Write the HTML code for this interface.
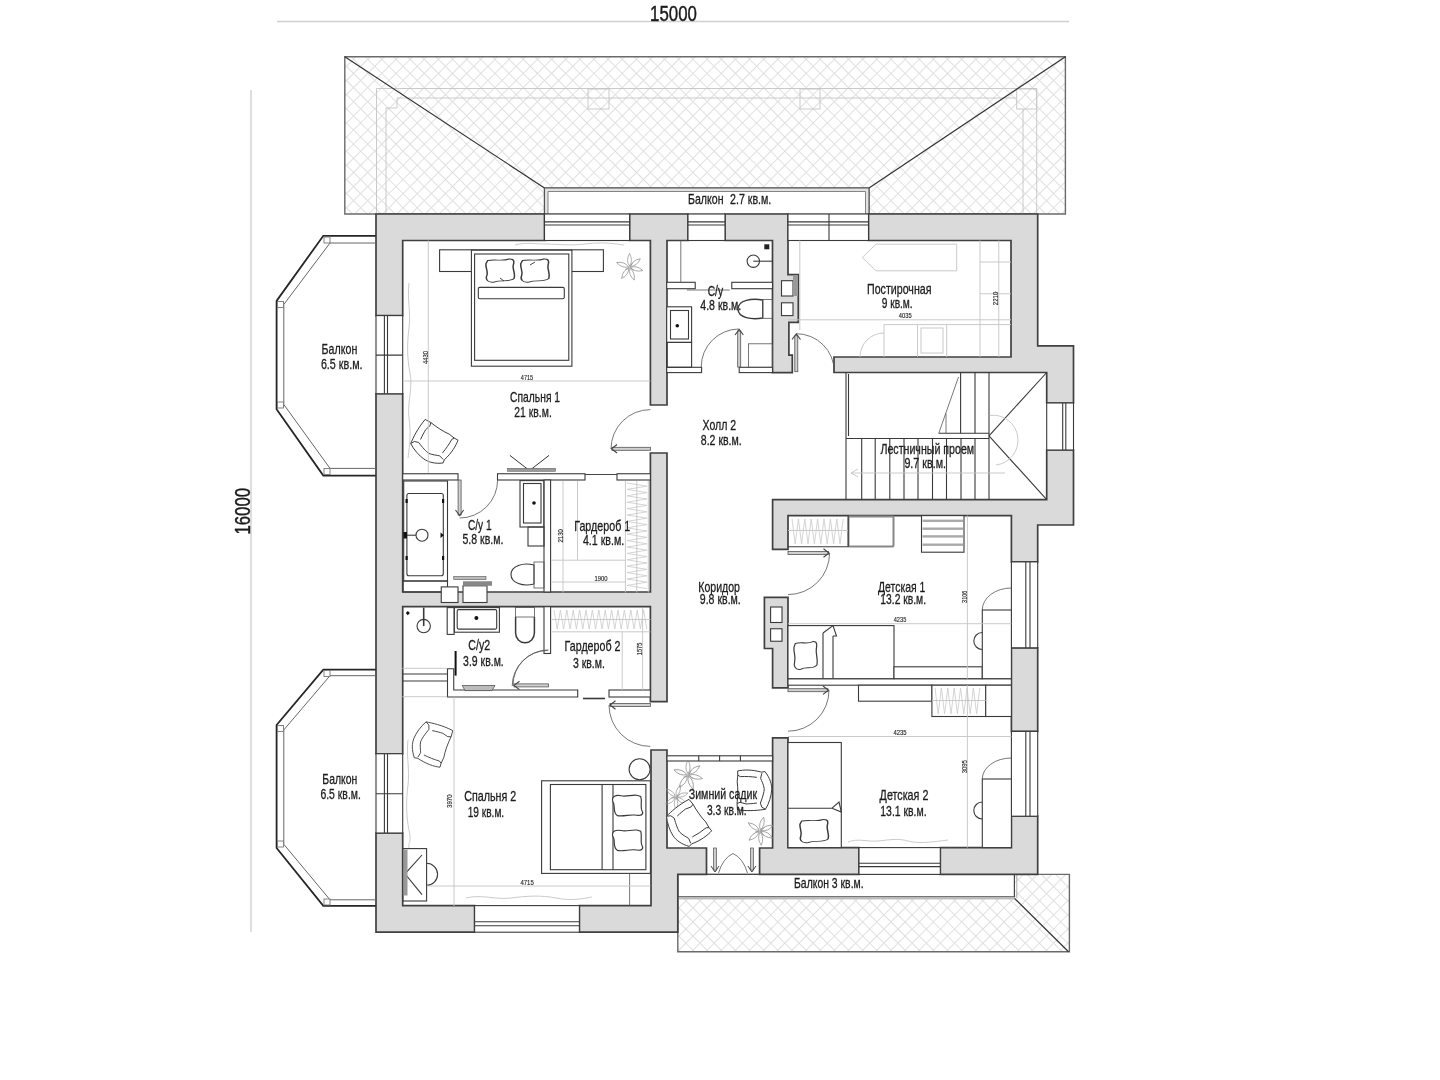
<!DOCTYPE html>
<html><head><meta charset="utf-8"><title>plan</title>
<style>
html,body{margin:0;padding:0;background:#fff;width:1440px;height:1080px;overflow:hidden}
svg{display:block;filter:blur(0.4px)}
text{font-family:"Liberation Sans",sans-serif;fill:#1a1a1a}
.w{fill:#dadada;stroke:#404040;stroke-width:1.7;stroke-linejoin:miter}
.ln{fill:none;stroke:#3a3a3a;stroke-width:1.1}
.lnw{fill:#fff;stroke:#3a3a3a;stroke-width:1.1}
.th{fill:none;stroke:#555;stroke-width:0.8}
.lt{fill:none;stroke:#c4c4c4;stroke-width:0.9}
.dim{fill:none;stroke:#d0d0d0;stroke-width:1.4}
.roof{fill:url(#hatch);stroke:#6a6a6a;stroke-width:1.4}
.t{font-size:14.6px;stroke:#222;stroke-width:0.3}
.s{font-size:7px;fill:#333;stroke:#333;stroke-width:0.15}
</style></head>
<body>
<svg width="1440" height="1080" viewBox="0 0 1440 1080">
<defs>
<pattern id="hatch" patternUnits="userSpaceOnUse" width="10" height="10" patternTransform="translate(0,2) rotate(45)">
<rect width="10" height="10" fill="#fff"/>
<path d="M0 0.5H10M0.5 0V10" stroke="#e0e0e0" stroke-width="1"/>
</pattern>

<g id="chair" fill="#fff" stroke="#3a3a3a" stroke-width="0.9" stroke-linejoin="round">
<path d="M-7.9 -23.1C-2 -22 8 -20 18.8 -14.4L17.1 -8.3C14 -2 11 6 9.9 12.2L7.1 18.3L6 22.2C0 21.5 -8 19 -16.2 13.3L-19.6 12.8C-22.5 5 -22 -2 -20.1 -6.7C-18 -12 -13 -19 -7.9 -23.1Z"/>
<path d="M-7.9 -23.1L-5.1 -19.9L-5.1 -15.6C-9 -11 -12.5 -6 -13.4 -3.3C-14.2 1 -13.4 5 -13.4 7.8L-16.2 12.2M-1.8 -14.4C3 -13.5 6 -12.5 8.8 -11.7L13.8 -8.3L17.1 -8.3M-10.1 9.9C-5 12.5 0 14.5 5.4 16L7.1 18.3" fill="none"/>
</g>
<g id="plant" fill="none" stroke="#8a8a8a" stroke-width="0.6">
<path id="petal" d="M0 -1Q3.5 -6 0 -12.5Q-3.5 -6 0 -1Z"/>
<use href="#petal" transform="rotate(52)"/>
<use href="#petal" transform="rotate(104)"/>
<use href="#petal" transform="rotate(160)"/>
<use href="#petal" transform="rotate(215)"/>
<use href="#petal" transform="rotate(290)"/>
<path d="M0 0L3 -4M0 0L-4 2M0 0L4 3"/>
</g>
<path id="pillow" d="M1 2C6 0.5 10 3 14 0.5C17.5 0 17 4 16.5 7C16 11 18 15 17 20C14 24 9 21 5 23.5C1 24.5 -0.5 21 0.5 17C1.5 13 -0.5 9 0 5Z" fill="#fff" stroke="#3a3a3a" stroke-width="0.9"/>
</defs>
<rect width="1440" height="1080" fill="#fff"/>

<!-- dimension lines -->
<line class="dim" x1="277" y1="21.5" x2="1069" y2="21.5"/>
<line class="dim" x1="251" y1="90" x2="251" y2="932"/>
<text x="650" y="20.6" font-size="22.8" stroke="#1a1a1a" stroke-width="0.45" textLength="46.9" lengthAdjust="spacingAndGlyphs">15000</text>
<text transform="translate(250,534.6) rotate(-90)" font-size="22.8" stroke="#1a1a1a" stroke-width="0.45" textLength="46.7" lengthAdjust="spacingAndGlyphs">16000</text>

<!-- TOP ROOF -->
<path class="roof" d="M344.8 56.7H1065.4V214H869V188H544.5V214H344.8Z"/>
<g class="lt">
<path d="M376.5 214V88.5H1036.7V214"/>
<path d="M386 214V108H397V98H1016.7M1023 214V109"/>
<rect x="588" y="89" width="21" height="20"/><rect x="800" y="89" width="20" height="20"/><rect x="1016.7" y="89" width="20" height="20"/>
</g>
<line x1="344.8" y1="56.7" x2="544.5" y2="188" stroke="#333" stroke-width="1.2"/>
<line x1="1065.4" y1="56.7" x2="869" y2="188" stroke="#333" stroke-width="1.2"/>
<!-- balcony 2.7 -->
<path d="M544.5 214V188H869V214Z" fill="#e2e2e2" stroke="#555" stroke-width="1.1"/>
<path d="M548 214V191.5H865.5V214Z" fill="#fff" stroke="#777" stroke-width="0.9"/>
<text x="688" y="203.5" class="t" textLength="35.5" lengthAdjust="spacingAndGlyphs">Балкон</text>
<text x="730" y="203.5" class="t" textLength="41.3" lengthAdjust="spacingAndGlyphs">2.7 кв.м.</text>

<!-- BOTTOM ROOF -->
<path class="roof" d="M677.8 874.4H1069.4V951.7H677.8Z"/>
<line x1="1014.4" y1="898.3" x2="1068.5" y2="951.7" stroke="#333" stroke-width="1.2"/>
<rect x="677.8" y="874.4" width="336.6" height="22.3" fill="#fff" stroke="#444" stroke-width="1.2"/>
<rect x="677.8" y="896.7" width="336.6" height="2.7" fill="#bbb"/>
<path d="M1016.8 874.4V898.3" stroke="#999" stroke-width="0.8"/>
<text x="794" y="888.4" class="t" textLength="69.6" lengthAdjust="spacingAndGlyphs">Балкон 3 кв.м.</text>

<!-- WALLS -->
<g class="w">
<path d="M376 214H544.5V240.5H402.7V315.6H376Z"/>
<path d="M629.6 214H688V240.5H667V405H650.4V240.5H629.6Z"/>
<path d="M725 214H788V274.6H798.3V322.3H788.9V355.2H792.3V372.6H772.5V240.5H725Z"/>
<path d="M868.5 214H1037.7V345.8H1073.5V403H1046.7V372.5H834V357H1011V240.5H868.5Z"/>
<path d="M1046.7 450H1073.5V525H1037.7V561.9H1011.4V515.6H788V549.3H772.6V499.6H1046.7Z"/>
<path d="M1011.4 647.8H1037.7V731.4H1011.4Z"/>
<path d="M1011.4 816.2H1037.7V874.4H940.3V847.6H1011.4Z"/>
<path d="M772.6 737.9H788V847.6H859V874.4H759.6V848H772.6Z"/>
<path d="M651 750H667V848H706.5V874.4H677.8V932.2H579.4V905.6H651Z"/>
<path d="M376 833H402.7V905.6H474.6V932.2H376Z"/>
<path d="M376 393.75H402.7V592H650.4V453H667V701.7H650.4V606.7H402.7V753.75H376Z"/>
<path d="M764.4 597.4H788V687.9H772.6V648.5H764.4Z"/>
</g>

<!-- WINDOWS -->
<g class="lnw">
<rect x="544.5" y="214" width="85.1" height="26.5"/>
<rect x="688" y="214" width="37" height="26.5"/>
<rect x="788" y="214" width="80.5" height="26.5"/>
<rect x="376" y="315.6" width="26.7" height="78.15"/>
<rect x="376" y="753.75" width="26.7" height="79.25"/>
<rect x="1046.7" y="403" width="26.8" height="47"/>
<rect x="1011.4" y="561.9" width="26.3" height="85.9"/>
<rect x="1011.4" y="731.4" width="26.3" height="84.8"/>
<rect x="474.6" y="905.6" width="104.8" height="26.6"/>
<rect x="859" y="847.6" width="81.3" height="26.8"/>
</g>
<g class="ln">
<path d="M544.5 221.9H629.6M544.5 225H629.6M688 221.9H725M688 225H725M788 221.9H868.5M788 225H868.5M829 214V240.5"/>
<path d="M384.4 315.6V393.75M387.5 315.6V393.75M376 355.1H402.7"/>
<path d="M384.4 753.75V833M387.5 753.75V833M376 793.7H402.7"/>
<path d="M1062.7 403V450M1065.8 403V450"/>
<path d="M1025.8 561.9V647.8M1030 561.9V647.8"/>
<path d="M1025.8 731.4V816.2M1030 731.4V816.2"/>
<path d="M474.6 921.7H579.4M474.6 925.8H579.4"/>
<path d="M859 863.2H940.3M859 866.6H940.3"/>
</g>

<!-- LEFT BALCONIES -->
<g>
<path d="M375.8 235.8H323.3L276.6 300.9V409.3L323.3 475.6H375.8" fill="none" stroke="#262626" stroke-width="1.8"/>
<path d="M375.8 243H330L283.8 304.5V404.5L330 468.4H375.8" fill="none" stroke="#666" stroke-width="1"/>
<path d="M375.8 669.6H323.3L276.6 725V848L323.3 905.8H375.8" fill="none" stroke="#262626" stroke-width="1.8"/>
<path d="M375.8 675.7H330L283.8 729.9V844.3L330 899.8H375.8" fill="none" stroke="#666" stroke-width="1"/>
<g fill="#fff" stroke="#777" stroke-width="0.9">
<rect x="324" y="237" width="6" height="6"/><rect x="277.5" y="301.5" width="6" height="6"/><rect x="277.5" y="402" width="6" height="6"/><rect x="324" y="468.5" width="6" height="6"/>
<rect x="324" y="670.5" width="6" height="6"/><rect x="277.5" y="725.5" width="6" height="6"/><rect x="277.5" y="841" width="6" height="6"/><rect x="324" y="899" width="6" height="6"/>
</g>
</g>

<!-- PARTITIONS -->
<g class="lnw">
<rect x="402.7" y="473.75" width="55.3" height="6.25"/>
<rect x="497.5" y="473.75" width="87.5" height="6.25"/>
<rect x="617" y="473.75" width="33.4" height="6.25"/>
<rect x="544" y="480" width="6.6" height="112"/>
<rect x="544" y="606.7" width="6.6" height="46.8"/>
<path d="M447.5 668.75H453.75V690H577.7V697H447.5Z"/>
<rect x="609" y="690" width="41.4" height="7"/>
<rect x="666.7" y="282.3" width="28.5" height="6.4"/>
<rect x="731.8" y="282.3" width="40.7" height="6.4"/>
<rect x="666.7" y="367.3" width="34.9" height="5.3"/>
<rect x="739.2" y="367.3" width="33.3" height="5.3"/>
<rect x="788" y="678.7" width="223.4" height="6.5"/>
<rect x="667" y="755.8" width="105.6" height="5.2"/>
</g>
<g class="ln">
<path d="M402.7 674H447.5M402.7 681H447.5"/>
<path d="M583 698.5H605" stroke-width="1.6"/>
<path d="M698.75 755.8V761M719.6 755.8V761M740.4 755.8V761"/>
</g>

<!-- STAIRS -->
<g class="ln">
<path d="M846 372.5V499.6M848.5 374V436"/>
<path d="M938.75 433.3H989M846 438.5H989"/>
<path d="M960.6 372.5V433.3M975 372.5V433.3M989 372.5V499.6"/>
<path d="M861.7 438.5V499.6M875.2 438.5V499.6M889.8 438.5V499.6M904 438.5V499.6M918 438.5V499.6M932.5 438.5V499.6M946.5 438.5V499.6M961 438.5V499.6M975 438.5V499.6"/>
<path d="M989 435.8L1046.7 372.5M989 435.8L1046.7 499.6"/>
<path d="M958.5 377L938.75 433.3M946 413.5V433.3" class="th"/>
</g>
<g class="lt">
<path d="M989.7 415.4A25 25 0 1 1 996 465"/>
<path d="M1005 473H851M858 469L851 473L858 477"/>
</g>

<!-- DOORS -->
<g class="th">
<path d="M611 449A39.4 39.4 0 0 1 650.4 409.6"/>
<path d="M459.6 518A38 38 0 0 0 497.6 480"/>
<path d="M701.2 367A38 38 0 0 1 739.2 329"/>
<path d="M796.3 333.7A38 38 0 0 1 834.3 371.7"/>
<path d="M829.6 553A41.6 41.6 0 0 1 788 594.6"/>
<path d="M829 690.2A41 41 0 0 1 788 731.2"/>
<path d="M609 705A41.4 41.4 0 0 0 650.4 746.4"/>
<path d="M513 685.4A35.5 35.5 0 0 1 548.5 649.9"/>
</g>
<g fill="#d0d0d0" stroke="#555" stroke-width="0.8">
<rect x="612" y="447.3" width="38.4" height="3"/>
<rect x="458.1" y="480" width="3" height="35"/>
<rect x="737.7" y="331" width="3" height="36"/>
<rect x="794.8" y="335.7" width="3" height="36"/>
<rect x="788" y="551.5" width="40.6" height="3"/>
<rect x="788" y="688.7" width="40" height="3"/>
<rect x="610" y="703.5" width="40.4" height="3"/>
<rect x="514" y="683.9" width="34.5" height="3"/>
</g>

<g fill="none" stroke="#444" stroke-width="1.1">
<path d="M617 444.5L611.5 448.75L617 453"/>
<path d="M455.5 510L459.6 515.5L463.7 510"/>
<path d="M735 335L739.2 329.5L743.4 335"/>
<path d="M792 339.5L796.3 334L800.5 339.5"/>
<path d="M823.5 548.8L829 553L823.5 557.2"/>
<path d="M823 686L828.5 690.2L823 694.4"/>
<path d="M615.5 700.8L610 705L615.5 709.2"/>
<path d="M519.5 681.2L514 685.4L519.5 689.6"/>
</g>
<path d="M585 474.5H617" stroke="#444" stroke-width="1"/>

<!-- FURNITURE: Спальня 1 -->
<g class="ln">
<rect x="439.6" y="249.8" width="163.8" height="21.7" fill="#fff"/>
<rect x="471.4" y="250.2" width="100.5" height="116" fill="#fff"/>
<rect x="474.6" y="254" width="94.2" height="106.3"/>
<rect x="478.3" y="287.4" width="86" height="11.3" rx="1.5"/>
</g>
<use href="#pillow" transform="translate(486,258.5) scale(1.65,1)"/>
<use href="#pillow" transform="translate(520.8,258.5) scale(1.65,1)"/>
<path d="M500 278l4 3M535 262l-5 3" stroke="#333" stroke-width="0.9"/>
<use href="#plant" transform="translate(629.5,267.2) scale(1.1)"/>
<use href="#chair" transform="translate(435,441) rotate(-77)"/>
<g class="lt">
<path d="M515 245c10-3 20-1 30-1s25 2 40 0 25-1 39 1"/>
<path d="M409 283c-2 15 2 30 0 45s-2 30 1 45-3 30-1 45 1 25-1 40"/>
<path d="M428.3 240.5V472.8M402.7 381H650.4"/>
</g>
<!-- TV -->
<path d="M509.9 455.4L529.5 470.6L549 455.4" fill="none" stroke="#333" stroke-width="1"/>
<rect x="507.7" y="468.3" width="47.9" height="3" fill="#999" stroke="#555" stroke-width="0.5"/>

<!-- С/у 1 -->
<g class="ln">
<rect x="403.7" y="481" width="43.8" height="100" fill="#fff"/>
<rect x="406.9" y="493.5" width="36.4" height="82.3" rx="2"/>
<circle cx="422" cy="535.2" r="6"/>
<path d="M404 535.2H416"/>
<rect x="403" y="581" width="44.5" height="11"/>
<rect x="520" y="480.6" width="23.75" height="46.4" fill="#fff"/>
<rect x="523.5" y="483.5" width="17.5" height="39.5"/>
<rect x="528" y="527" width="16" height="19"/>
<path d="M534 565C523 562 511 566 511 574.5S523 587 534 584Z" fill="#fff"/>
<rect x="534" y="562" width="10" height="26" class="th"/>
<rect x="441.25" y="586.9" width="16.75" height="15.6" fill="#fff"/>
<rect x="463" y="585.8" width="24" height="16.7" fill="#fff"/>
</g>
<circle cx="534" cy="503" r="1.8" fill="#111"/>
<rect x="453.75" y="576.5" width="32.25" height="3.1" fill="#bbb" stroke="#555" stroke-width="0.6"/>
<rect x="463" y="581.25" width="29" height="4.5" fill="#888"/>
<g fill="#111"><rect x="405.5" y="499" width="2.2" height="4"/><rect x="442" y="499" width="2.2" height="4"/><rect x="405.5" y="556" width="2.2" height="4"/><rect x="442" y="556" width="2.2" height="4"/><rect x="403.5" y="532" width="3.5" height="6.5"/><path d="M440.5 532.5l3.5 2.7-3.5 2.7z"/></g>

<!-- Гардероб 1 -->
<g class="lt">
<path d="M563 481V592.5M577.5 481V560.2M551.5 560.2H625.4M625.4 481V592.5M648.3 481V592.5M551.5 582H625.4"/>
<path d="M627.0 483.0 L647.0 486.2 L627.0 489.4 L647.0 492.6 L627.0 495.8 L647.0 499.0 L627.0 502.2 L647.0 505.4 L627.0 508.6 L647.0 511.8 L627.0 515.0 L647.0 518.2 L627.0 521.4 L647.0 524.6 L627.0 527.8 L647.0 531.0 L627.0 534.2 L647.0 537.4 L627.0 540.6 L647.0 543.8 L627.0 547.0 L647.0 550.2 L627.0 553.4 L647.0 556.6 L627.0 559.8 L647.0 563.0 L627.0 566.2 L647.0 569.4 L627.0 572.6 L647.0 575.8 L627.0 579.0 L647.0 582.2 L627.0 585.4 L647.0 588.6" stroke="#cfcfcf"/><path d="M636.8 481V592.5"/>
</g>

<!-- С/у 4.8 -->
<g class="ln">
<path d="M680.8 240.5V282.3" class="th"/>
<circle cx="753.3" cy="261.2" r="6.2"/>
<path d="M753.3 261.2H772.5"/>
<rect x="666.7" y="306.8" width="24.9" height="35.6" fill="#fff"/>
<rect x="670.5" y="310.5" width="18" height="28.5"/>
<rect x="666.7" y="342.4" width="24.9" height="24.9"/>
<path d="M762.7 300C752 298 738 300 738 309S752 320 762.7 318Z" fill="#fff" stroke-width="1.4"/>
<rect x="762.7" y="299.5" width="9.8" height="18.8" class="th"/>
<rect x="748.4" y="343.8" width="24.1" height="23.5" class="th"/>
<path d="M686.9 290H729.8" class="th"/>
</g>
<rect x="764.3" y="244.3" width="5" height="5" fill="#222"/>
<circle cx="677.3" cy="325.8" r="1.8" fill="#111"/>
<g class="lnw"><rect x="781.5" y="280.7" width="11.5" height="15.3"/><rect x="781.5" y="302.8" width="11.5" height="12.8"/></g>
<rect x="793" y="275" width="5" height="21" fill="#999"/>

<!-- Постирочная -->
<g class="lt" stroke="#b5b5b5">
<path d="M862.3 257.5L876 244.2H956.7V270.8H876Z"/>
<path d="M980 240.5V357M998.75 240.5V357M980 262H1011M980 293.75H1011M884 324.6H1011M884 324.6V357M917.5 324.6V357M946.7 324.6V357"/>
<rect x="921" y="328" width="22" height="25"/>
<path d="M860 357A24 24 0 0 1 884 333"/>
<path d="M799.8 240.5V330M788 319.8H1011"/>
</g>

<!-- С/у2 -->
<path d="M405.8 613.1l2-2.2 2 2.2-2 2.2z" fill="#111"/>
<g class="ln">
<path d="M423.7 607.6V626.1" stroke-width="1.6"/>
<circle cx="423.7" cy="626.1" r="6.7"/>
<rect x="447.2" y="607.6" width="6.9" height="26.8" fill="#fff"/>
<rect x="454.4" y="607.6" width="45" height="24.6" fill="#fff"/>
<rect x="457.2" y="609.6" width="39.5" height="19.5" rx="1.5"/>
<path d="M515.6 617V633A9.4 9.8 0 0 0 534.4 633V617" fill="#fff" stroke-width="1.5"/>
<rect x="515.6" y="607.6" width="18.8" height="9.4" class="th"/>
</g>
<circle cx="476.4" cy="618" r="2" fill="#111"/>
<path d="M455.6 651V675.6" stroke="#111" stroke-width="2"/>
<path d="M462.2 685.5H495L492 690.6H465Z" fill="#bbb" stroke="#444" stroke-width="0.7"/>
<path d="M512.2 686.1A35.6 35.6 0 0 1 547.8 650.5" class="th"/>
<g class="lt"><path d="M402.4 668.3H447.2M402.4 696.7H447.2"/></g>

<!-- Гардероб 2 -->
<g class="lt">
<path d="M551.7 631.8H650.4M622.2 631.8V690M642.6 608V690"/>
<path d="M554.0 610.0 L557.2 629.0 L560.4 610.0 L563.6 629.0 L566.8 610.0 L570.0 629.0 L573.2 610.0 L576.4 629.0 L579.6 610.0 L582.8 629.0 L586.0 610.0 L589.2 629.0 L592.4 610.0 L595.6 629.0 L598.8 610.0 L602.0 629.0 L605.2 610.0 L608.4 629.0 L611.6 610.0 L614.8 629.0 L618.0 610.0 L621.2 629.0 L624.4 610.0 L627.6 629.0 L630.8 610.0 L634.0 629.0 L637.2 610.0 L640.4 629.0 L643.6 610.0 L646.8 629.0" stroke="#cfcfcf"/><path d="M551.7 619.5H650.4"/>
</g>

<!-- Спальня 2 -->
<use href="#chair" transform="translate(434,745) rotate(0)"/>
<g class="ln">
<rect x="541.6" y="780.8" width="108.8" height="92.6" fill="#fff"/>
<rect x="550.4" y="784.5" width="95.5" height="85.2"/>
<path d="M602.1 784.5V869.7M613 784.5V869.7"/>
<circle cx="639.6" cy="769.3" r="10.5" fill="#fff"/>
<rect x="403.1" y="848.6" width="23.5" height="52.4" fill="#fff"/>
<path d="M422 855L405 873.8L422 894.6"/>
<path d="M426.6 863.3A11 11 0 1 1 426.6 885.3"/>
<path d="M629.6 873.4V905.6" class="th"/>
</g>
<rect x="403.5" y="849.5" width="4" height="46" fill="#999"/>
<use href="#pillow" transform="translate(643.3,795.2) rotate(90) scale(1.2,1.3)"/>
<use href="#pillow" transform="translate(643.3,830) rotate(90) scale(1.2,1.3)"/>
<g class="lt">
<path d="M454 697V906M427 886H650.4"/>
<path d="M466 898c15-4 30 2 45 0s30-3 45 0 25 1 36-1"/>
<path d="M408 740c-2 15 2 30 0 45s-2 30 1 45-1 10 0 18"/>
</g>

<!-- Зимний садик -->
<use href="#plant" transform="translate(688,775) scale(1.2)"/>
<use href="#plant" transform="translate(676,797) scale(1.0) rotate(20)"/>
<use href="#plant" transform="translate(760,831) scale(1.15) rotate(15)"/>
<use href="#chair" transform="translate(690,823) rotate(-55)"/>
<use href="#chair" transform="translate(750.5,790) rotate(161)"/>
<g class="th">
<path d="M718.5 873Q723 858 733 853.5Q743 858 747.5 873"/>
</g>
<g fill="#ccc" stroke="#555" stroke-width="0.7">
<rect x="713.5" y="848" width="3" height="22"/>
<rect x="750.4" y="848" width="3" height="22"/>
</g>
<path d="M711 866l4 6 4-6M747.9 866l4 6 4-6" fill="none" stroke="#444" stroke-width="1"/>

<!-- Детская 1 -->
<g class="ln">
<rect x="848.5" y="516.5" width="45" height="30" stroke="#888" stroke-width="2" rx="1"/>
<path d="M788 546.8H848.2V515.6"/>
<rect x="921.5" y="515.6" width="42.5" height="36.6" fill="#fff"/>
<rect x="788" y="625.6" width="106" height="53.1" fill="#fff"/>
<path d="M823 633V678.7M833 636V678.7M823 633L833 625.6L836.5 636L833 636"/>
<rect x="894" y="666.8" width="88.3" height="11.9" fill="#fff"/>
<rect x="982.3" y="610" width="29.1" height="68.7" fill="#fff"/>
<path d="M982.3 610A29 22 0 0 1 1011.4 588" class="th"/>
<path d="M982.3 632.5A8.5 8.5 0 0 0 982.3 649.5"/>
</g>
<g fill="#aaa"><rect x="922.5" y="519.6" width="40.5" height="2.4"/><rect x="922.5" y="527.5" width="40.5" height="2.4"/><rect x="922.5" y="535.2" width="40.5" height="2.4"/><rect x="922.5" y="543.5" width="40.5" height="2.4"/></g>
<use href="#pillow" transform="translate(794,641) scale(1.35,1.2)"/>
<g class="lt">
<path d="M792.0 519.0 L795.2 544.0 L798.4 519.0 L801.6 544.0 L804.8 519.0 L808.0 544.0 L811.2 519.0 L814.4 544.0 L817.6 519.0 L820.8 544.0 L824.0 519.0 L827.2 544.0 L830.4 519.0 L833.6 544.0 L836.8 519.0 L840.0 544.0 L843.2 519.0" stroke="#cfcfcf"/><path d="M788 530.5H848" />
<path d="M788 623.7H1011.4M967.4 515.6V678.7"/>
</g>
<g class="lnw"><rect x="770.6" y="607" width="11.4" height="15.5"/><rect x="770.6" y="628.75" width="11.4" height="12.5"/></g>

<!-- Детская 2 -->
<g class="ln">
<rect x="858.5" y="685.2" width="73.4" height="16" fill="#fff"/>
<rect x="931.9" y="685.2" width="53.8" height="31.3" fill="#fff"/>
<rect x="985.7" y="685.2" width="25.7" height="31.3" fill="#fff"/>
<rect x="788" y="742.5" width="53.3" height="105.1" fill="#fff"/>
<path d="M788 808.2H832M832 808.2L839 802L841.3 812L832 808.2"/>
<rect x="982.3" y="779" width="29.1" height="68.6" fill="#fff"/>
<path d="M982.3 779A29 21 0 0 1 1011.4 758" class="th"/>
<path d="M982.3 802A8.5 8.5 0 0 0 982.3 819"/>
</g>
<use href="#pillow" transform="translate(800,819) scale(1.65,1)"/>
<g class="lt">
<path d="M935.0 688.0 L938.2 714.0 L941.4 688.0 L944.6 714.0 L947.8 688.0 L951.0 714.0 L954.2 688.0 L957.4 714.0 L960.6 688.0 L963.8 714.0 L967.0 688.0 L970.2 714.0 L973.4 688.0 L976.6 714.0 L979.8 688.0" stroke="#cfcfcf"/><path d="M931.9 700.5H985.7"/>
<path d="M788 736.5H1011.4M967.4 685.2V847.6"/>
<path d="M848 842c10-4 20 0 30-1s20-3 30 0 25 1 40-1"/>
</g>

<g class="s">
<text x="520.8" y="379.6" textLength="12.4" lengthAdjust="spacingAndGlyphs">4715</text>
<text x="898.75" y="317.6" textLength="12.9" lengthAdjust="spacingAndGlyphs">4035</text>
<text x="594.6" y="581" textLength="13" lengthAdjust="spacingAndGlyphs">1900</text>
<text x="893.7" y="621.6" textLength="12.6" lengthAdjust="spacingAndGlyphs">4235</text>
<text x="893.4" y="735.4" textLength="13.2" lengthAdjust="spacingAndGlyphs">4235</text>
<text x="520.4" y="885.4" textLength="13.4" lengthAdjust="spacingAndGlyphs">4715</text>
<text transform="translate(428.3,364) rotate(-90)" textLength="13" lengthAdjust="spacingAndGlyphs">4430</text>
<text transform="translate(562.9,542.5) rotate(-90)" textLength="13.5" lengthAdjust="spacingAndGlyphs">2130</text>
<text transform="translate(642.2,655.2) rotate(-90)" textLength="12.5" lengthAdjust="spacingAndGlyphs">1575</text>
<text transform="translate(997.7,305.2) rotate(-90)" textLength="13.5" lengthAdjust="spacingAndGlyphs">2210</text>
<text transform="translate(966.6,602.9) rotate(-90)" textLength="12.2" lengthAdjust="spacingAndGlyphs">3106</text>
<text transform="translate(966.8,773.2) rotate(-90)" textLength="13.1" lengthAdjust="spacingAndGlyphs">3095</text>
<text transform="translate(452,808) rotate(-90)" textLength="13.6" lengthAdjust="spacingAndGlyphs">3970</text>
</g>

<!-- LABELS -->
<g class="t">
<text x="867" y="293.75" textLength="64.5" lengthAdjust="spacingAndGlyphs">Постирочная</text>
<text x="881.7" y="308.3" textLength="31" lengthAdjust="spacingAndGlyphs">9 кв.м.</text>
<text x="321.6" y="353.9" textLength="35.7" lengthAdjust="spacingAndGlyphs">Балкон</text>
<text x="320.9" y="369.1" textLength="41.7" lengthAdjust="spacingAndGlyphs">6.5 кв.м.</text>
<text x="510.1" y="402.2" textLength="50" lengthAdjust="spacingAndGlyphs">Спальня 1</text>
<text x="514.3" y="417.2" textLength="37.5" lengthAdjust="spacingAndGlyphs">21 кв.м.</text>
<text x="702.5" y="430" textLength="33.75" lengthAdjust="spacingAndGlyphs">Холл 2</text>
<text x="700.8" y="444.6" textLength="40.9" lengthAdjust="spacingAndGlyphs">8.2 кв.м.</text>
<text x="880.4" y="454.2" textLength="93.8" lengthAdjust="spacingAndGlyphs">Лестничный проем</text>
<text x="904.4" y="467.7" textLength="41.6" lengthAdjust="spacingAndGlyphs">9.7 кв.м.</text>
<text x="467.9" y="529.6" textLength="23.8" lengthAdjust="spacingAndGlyphs">С/у 1</text>
<text x="462.5" y="543.5" textLength="40.8" lengthAdjust="spacingAndGlyphs">5.8 кв.м.</text>
<text x="574.2" y="530.6" textLength="56" lengthAdjust="spacingAndGlyphs">Гардероб 1</text>
<text x="582.9" y="545.2" textLength="41.3" lengthAdjust="spacingAndGlyphs">4.1 кв.м.</text>
<text x="698.3" y="592.3" textLength="41.7" lengthAdjust="spacingAndGlyphs">Коридор</text>
<text x="699.8" y="603.75" textLength="41" lengthAdjust="spacingAndGlyphs">9.8 кв.м.</text>
<text x="878" y="592.3" textLength="47.4" lengthAdjust="spacingAndGlyphs">Детская 1</text>
<text x="880.3" y="604.3" textLength="45.8" lengthAdjust="spacingAndGlyphs">13.2 кв.м.</text>
<text x="468.3" y="650" textLength="21.9" lengthAdjust="spacingAndGlyphs">С/у2</text>
<text x="463.1" y="665.6" textLength="40.65" lengthAdjust="spacingAndGlyphs">3.9 кв.м.</text>
<text x="564.6" y="651" textLength="55.8" lengthAdjust="spacingAndGlyphs">Гардероб 2</text>
<text x="572.9" y="667.7" textLength="31.9" lengthAdjust="spacingAndGlyphs">3 кв.м.</text>
<text x="322.3" y="784.1" textLength="35" lengthAdjust="spacingAndGlyphs">Балкон</text>
<text x="320.4" y="799.3" textLength="40.5" lengthAdjust="spacingAndGlyphs">6.5 кв.м.</text>
<text x="464.2" y="801" textLength="52" lengthAdjust="spacingAndGlyphs">Спальня 2</text>
<text x="467.7" y="816.7" textLength="36.5" lengthAdjust="spacingAndGlyphs">19 кв.м.</text>
<text x="688.75" y="799.2" textLength="68.4" lengthAdjust="spacingAndGlyphs">Зимний садик</text>
<text x="706.9" y="814.8" textLength="39.8" lengthAdjust="spacingAndGlyphs">3.3 кв.м.</text>
<text x="879.6" y="800.2" textLength="48.8" lengthAdjust="spacingAndGlyphs">Детская 2</text>
<text x="880.3" y="815.8" textLength="46.3" lengthAdjust="spacingAndGlyphs">13.1 кв.м.</text>
<text x="707.7" y="295.5" textLength="15.4" lengthAdjust="spacingAndGlyphs">С/у</text>
<text x="700.3" y="310.2" textLength="41" lengthAdjust="spacingAndGlyphs">4.8 кв.м.</text>
</g>

</svg>
</body></html>
